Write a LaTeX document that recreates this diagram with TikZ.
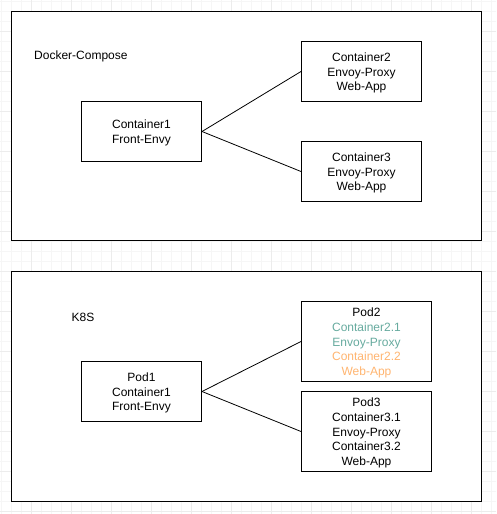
\documentclass[tikz,border=0pt]{standalone}
\usepackage{fontspec}
\setmainfont{Liberation Sans}
\definecolor{gridminor}{HTML}{F6F6F6}
\definecolor{gridmajor}{HTML}{ECECEC}
\definecolor{tealc}{HTML}{67AB9F}
\definecolor{orangec}{HTML}{FFB570}
\begin{document}
\begin{tikzpicture}[x=1pt,y=-1pt,
  box/.style={draw=black,line width=1pt,fill=white,minimum width=#1,inner sep=0pt},
  txt/.style={inner sep=0pt,align=center,font=\fontsize{12}{14.7}\selectfont},
  frame/.style={draw=black,line width=1pt,fill=white},
  lbl/.style={font=\fontsize{12}{14}\selectfont,inner sep=0pt},
  conn/.style={draw=black,line width=0.8pt}]
\useasboundingbox (0,0) rectangle (496,514);
\fill[white] (0,0) rectangle (496,514);
\foreach \i in {0,...,49} {\draw[gridminor,line width=0.8pt] ({1.5+10*\i},0) -- ({1.5+10*\i},514);}
\foreach \i in {0,...,51} {\draw[gridminor,line width=0.8pt] (0,{1.5+10*\i}) -- (496,{1.5+10*\i});}
\foreach \i in {0,...,12} {\draw[gridmajor,line width=0.8pt] ({31.5+40*\i},0) -- ({31.5+40*\i},514);}
\foreach \i in {0,...,12} {\draw[gridmajor,line width=0.8pt] (0,{31.5+40*\i}) -- (496,{31.5+40*\i});}
% frames
\draw[frame] (11.5,11.5) rectangle (481.5,240.5);
\draw[frame] (11.5,271.5) rectangle (481.5,501.5);
\node[lbl,anchor=west] (dc) at (34,56.5) {Docker-Compose};
\node[lbl,anchor=west] (k8s) at (71.5,317.5) {K8S};
% docker-compose nodes
\node[box=120pt,minimum height=60pt] (c1) at (141.5,131.5) {};
\node[txt] (c1t) at (141.5,133) {Container1\\Front-Envy};
\node[box=120pt,minimum height=60pt] (c2) at (361.5,71.5) {};
\node[txt] (c2t) at (361.5,73) {Container2\\Envoy-Proxy\\Web-App};
\node[box=120pt,minimum height=60pt] (c3) at (361.5,171.5) {};
\node[txt] (c3t) at (361.5,173) {Container3\\Envoy-Proxy\\Web-App};
\draw[conn] (c1.east) -- (c2.west);
\draw[conn] (c1.east) -- (c3.west);
% k8s nodes
\node[box=120pt,minimum height=60pt] (p1) at (141.5,391.5) {};
\node[txt] (p1t) at (141.5,393) {Pod1\\Container1\\Front-Envy};
\node[box=130pt,minimum height=80pt] (p2) at (366.5,341.5) {};
\node[txt] (p2t) at (366.5,343) {Pod2\\\textcolor{tealc}{Container2.1}\\\textcolor{tealc}{Envoy-Proxy}\\\textcolor{orangec}{Container2.2}\\\textcolor{orangec}{Web-App}};
\node[box=130pt,minimum height=80pt] (p3) at (366.5,431.5) {};
\node[txt] (p3t) at (366.5,433) {Pod3\\Container3.1\\Envoy-Proxy\\Container3.2\\Web-App};
\draw[conn] (p1.east) -- (p2.west);
\draw[conn] (p1.east) -- (p3.west);
\end{tikzpicture}
\end{document}
